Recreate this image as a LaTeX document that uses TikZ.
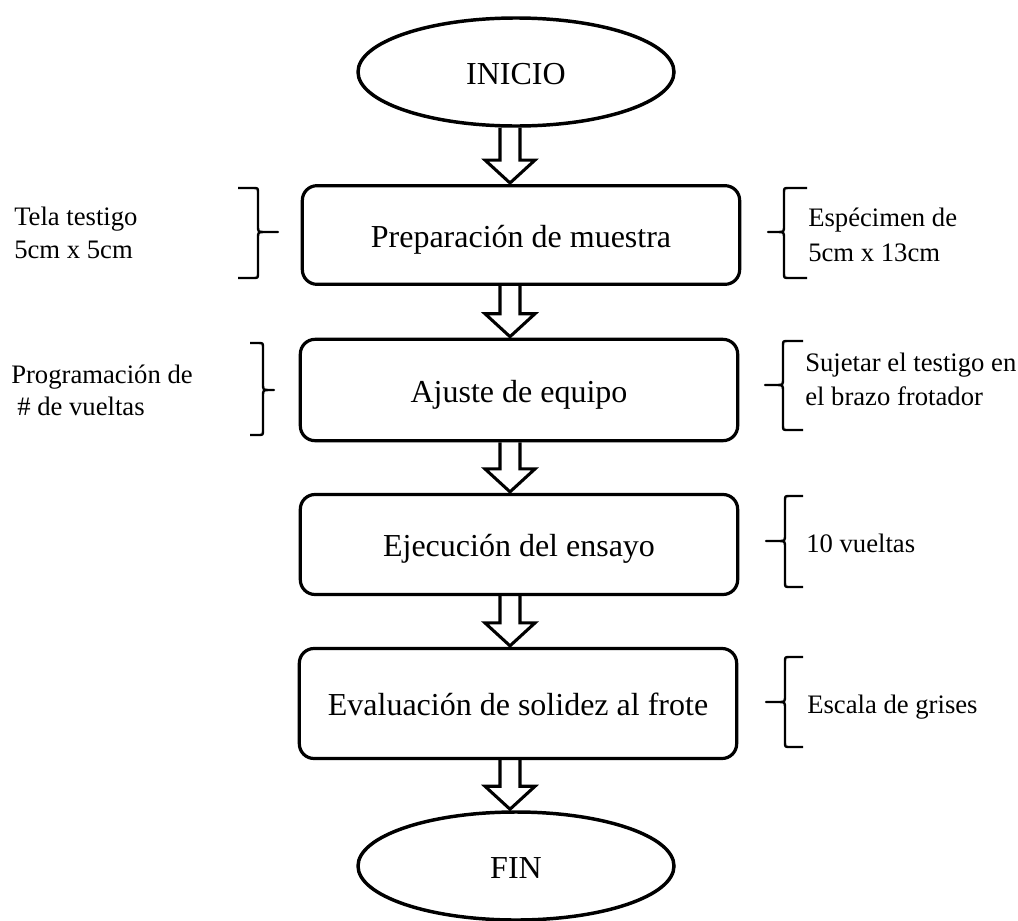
\documentclass[tikz,border=0pt]{standalone}
\usepackage{fontspec}
\setmainfont{Liberation Serif}
\usetikzlibrary{shapes.geometric,calc}
\tikzset{
  box/.style={draw, line width=2.4pt, rounded corners=11pt, minimum width=328pt, inner sep=0pt,
    font=\fontsize{24}{28}\selectfont, text height=18pt, text depth=0pt},
  oval/.style={draw, ellipse, line width=2.6pt, minimum width=237pt, minimum height=81pt, inner sep=0pt,
    font=\fontsize{24}{28}\selectfont, text height=18pt, text depth=0pt},
  blk/.style={draw, line width=2.3pt, line join=miter},
  brc/.style={draw, line width=1.8pt, line join=round},
  side/.style={anchor=base west, inner sep=0pt, font=\fontsize{20}{24}\selectfont},
}
% block arrow from node #1 (bottom) to node #2 (top), axis at x = 382.5pt
\newcommand{\blkarrow}[2]{%
  \draw[blk] let \p1=(#1.south), \p2=(#2.north) in
    (375pt,\y1) -- (375pt,\y2+18pt) -- (363.75pt,\y2+18pt) -- (382.5pt,\y2+0.8pt)
    -- (401.25pt,\y2+18pt) -- (390pt,\y2+18pt) -- (390pt,\y1);}
% brace "{" : hook x, vertical x, tip x, top y, mid y, bottom y
\newcommand{\mybraceR}[6]{%
  \draw[brc] (#1,#4) -- ({#2+5},#4) .. controls (#2,#4) .. (#2,{#4+5}) -- (#2,{#5-7})
    .. controls (#2,#5) .. ({#2-6},#5) -- (#3,#5) -- ({#2-6},#5)
    .. controls (#2,#5) .. (#2,{#5+7}) -- (#2,{#6-5}) .. controls (#2,#6) .. ({#2+5},#6) -- (#1,#6);}
% brace "}" : hook x, vertical x, tip x, top y, mid y, bottom y
\newcommand{\mybraceL}[6]{%
  \draw[brc] (#1,#4) -- ({#2-5},#4) .. controls (#2,#4) .. (#2,{#4+5}) -- (#2,{#5-7})
    .. controls (#2,#5) .. ({#2+6},#5) -- (#3,#5) -- ({#2+6},#5)
    .. controls (#2,#5) .. (#2,{#5+7}) -- (#2,{#6-5}) .. controls (#2,#6) .. ({#2-5},#6) -- (#1,#6);}
\begin{document}
\begin{tikzpicture}[x=0.75pt, y=-0.75pt]
\useasboundingbox (0,0) rectangle (1018,921);
% main flow
\node[oval] (inicio) at (516,72) {INICIO};
\node[box, minimum height=74pt] (b1) at (521,235) {Preparación de muestra};
\node[box, minimum height=76pt] (b2) at (519,390) {Ajuste de equipo};
\node[box, minimum height=75pt] (b3) at (519,544.5) {Ejecución del ensayo};
\node[box, minimum height=82.5pt] (b4) at (518,703.5) {Evaluación de solidez al frote};
\node[oval] (fin) at (516,866) {FIN};
\blkarrow{inicio}{b1}
\blkarrow{b1}{b2}
\blkarrow{b2}{b3}
\blkarrow{b3}{b4}
\blkarrow{b4}{fin}
% left braces and notes
\mybraceL{238}{258}{278}{188}{232}{278}
\mybraceL{250}{263}{274}{343}{390}{435}
\node[side] (tl1) at (14,225) {Tela testigo};
\node[side] (tl2) at (14,258) {5cm x 5cm};
\node[side] (pg1) at (11,383) {Programación de};
\node[side] (pg2) at (17,415) {\# de vueltas};
% right braces and notes
\mybraceR{807}{784}{768}{188}{232}{278}
\mybraceR{803}{783}{765}{341}{385}{430}
\mybraceR{803}{785}{766}{496}{541}{587}
\mybraceR{803}{785}{766}{657}{702}{747}
\node[side] (es1) at (808,226) {Espécimen de};
\node[side] (es2) at (808,261) {5cm x 13cm};
\node[side] (sj1) at (805,371) {Sujetar el testigo en};
\node[side] (sj2) at (805,405) {el brazo frotador};
\node[side] (vu) at (806,552) {10 vueltas};
\node[side] (eg) at (807,713) {Escala de grises};
\end{tikzpicture}
\end{document}
